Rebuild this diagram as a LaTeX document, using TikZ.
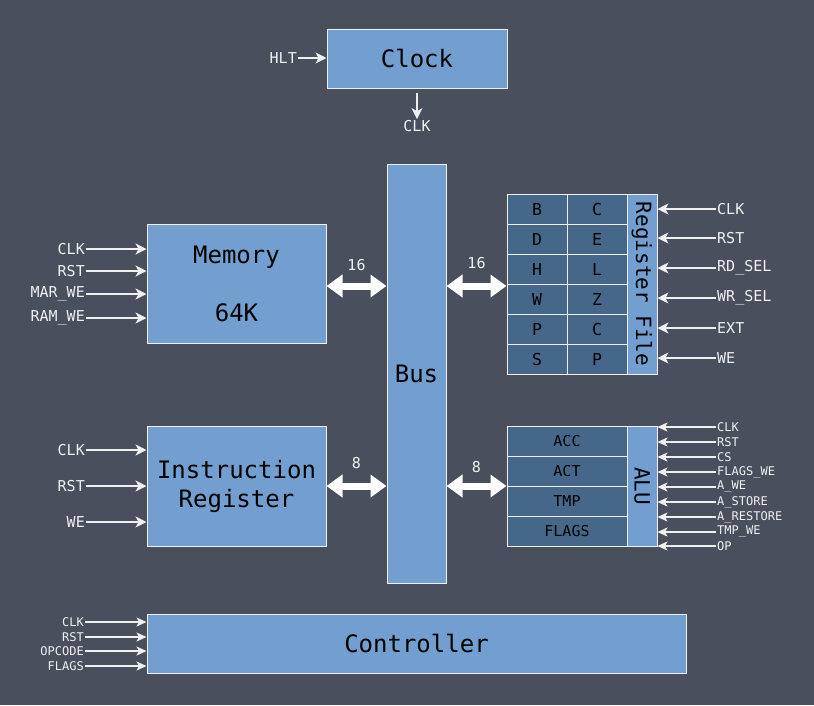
\documentclass[tikz,border=0pt]{standalone}
\usepackage{fontspec}
\setmainfont{DejaVu Sans Mono}
\usetikzlibrary{positioning,arrows.meta}

\definecolor{bgc}{RGB}{74,79,94}
\definecolor{boxc}{RGB}{114,159,207}
\definecolor{cellc}{RGB}{69,104,138}
\definecolor{linec}{RGB}{240,240,240}

\tikzset{
  blk/.style={draw=linec,fill=boxc,line width=1pt,inner sep=0pt,text=black},
  cell/.style={draw=linec,fill=cellc,line width=1pt,inner sep=0pt,text=black,
    minimum height=30pt,font=\fontsize{15}{18}\selectfont},
  big/.style={font=\fontsize{24}{29}\selectfont},
  vert/.style={font=\fontsize{21}{25}\selectfont},
  sig/.style={text=linec,inner sep=1pt,font=\fontsize{15}{18}\selectfont},
  sigs/.style={text=linec,inner sep=1pt,font=\fontsize{12}{14}\selectfont},
  inarr/.style={draw=linec,line width=1.5pt,-{Stealth[length=11pt,width=11pt,inset=3pt]}},
  inarrs/.style={draw=linec,line width=1.3pt,-{Stealth[length=10pt,width=9pt,inset=2.5pt]}},
  busarr/.style={draw=white,line width=7pt,
    {Triangle[length=16pt,width=22pt]}-{Triangle[length=16pt,width=22pt]}}
}

\begin{document}
\begin{tikzpicture}[x=1pt,y=-1pt]

\fill[bgc] (0,0) rectangle (814,705);
\useasboundingbox (0,0) rectangle (814,705);

% clock
\node[blk,big,minimum width=180pt,minimum height=59pt] (clock) at (417,58.5) {Clock};
\node[sig,anchor=east] (hlt) at (298,58) {HLT};
\draw[inarr] (hlt.east) -- (hlt -| clock.west);
\node[sig] (clkout) at (417,126) {CLK};
\draw[inarr] ([yshift=-4pt]clock.south) -- (clkout.north);

% bus
\node[blk,big,minimum width=59pt,minimum height=419pt] (bus) at (416.5,373.5) {Bus};

% memory
\node[blk,big,align=center,minimum width=179pt,minimum height=119pt] (mem) at (236.5,283.5) {Memory\\[29pt]64K};
\foreach \y/\t in {249/CLK,271/RST,294/MAR\_WE,318/RAM\_WE}{
  \node[sig,anchor=east] (mi\y) at (86,\y) {\t};
  \draw[inarr] (mi\y.east) -- (mi\y -| mem.west);
}
\draw[busarr] ([yshift=-2.5pt]mem.east) -- node[sig,above=11pt] (wmem) {16} ([yshift=-2.5pt]mem.east -| bus.west);

% register file
\foreach \r/\a/\b in {0/B/C,1/D/E,2/H/L,3/W/Z,4/P/C,5/S/P}{
  \node[cell,minimum width=60pt,font=\fontsize{16.5}{19}\selectfont] (ra\r) at (537,209+30*\r) {\a};
  \node[cell,minimum width=60pt,font=\fontsize{16.5}{19}\selectfont] (rb\r) at (597,209+30*\r) {\b};
}
\node[blk,vert,minimum width=30pt,minimum height=180pt] (rf) at (642,284) {\rotatebox{-90}{Register File}};
\foreach \y/\t in {209/CLK,238/RST,268/RD\_SEL,298/WR\_SEL,328/EXT,358/WE}{
  \node[sig,anchor=west] (ri\y) at (716,\y) {\t};
  \draw[inarr] (ri\y.west) -- (ri\y -| rf.east);
}
\draw[busarr] ([yshift=-2.5pt]mem.east -| bus.east) -- node[sig,above=13pt] (wrf) {16} ([yshift=-2.5pt]mem.east -| ra3.west);

% instruction register
\node[blk,big,align=center,minimum width=179pt,minimum height=120pt] (ir) at (236.5,486) {Instruction\\Register};
\foreach \y/\t in {450/CLK,486/RST,522/WE}{
  \node[sig,anchor=east] (ii\y) at (86,\y) {\t};
  \draw[inarr] (ii\y.east) -- (ii\y -| ir.west);
}
\draw[busarr] (ir.east) -- node[sig,above=13pt] (wir) {8} (ir.east -| bus.west);

% alu
\foreach \r/\t in {0/ACC,1/ACT,2/TMP,3/FLAGS}{
  \node[cell,minimum width=120pt] (ac\r) at (567,441+30*\r) {\t};
}
\node[blk,vert,minimum width=30pt,minimum height=120pt] (alu) at (642,486) {\rotatebox{-90}{ALU}};
\foreach \y/\t in {427/CLK,442/RST,457/CS,472/FLAGS\_WE,487/A\_WE,502/A\_STORE,517/A\_RESTORE,532/TMP\_WE,546/OP}{
  \node[sigs,anchor=west] (ai\y) at (716,\y) {\t};
  \draw[inarrs] (ai\y.west) -- (ai\y -| alu.east);
}
\draw[busarr] (ir.east -| bus.east) -- node[sig,above=9pt] (walu) {8} (ir.east -| ac2.west);

% controller
\node[blk,big,minimum width=539pt,minimum height=59pt] (ctl) at (416.5,643.5) {Controller};
\foreach \y/\t in {622/CLK,637/RST,651/OPCODE,666/FLAGS}{
  \node[sigs,anchor=east] (ci\y) at (85,\y) {\t};
  \draw[inarrs] (ci\y.east) -- (ci\y -| ctl.west);
}

\end{tikzpicture}
\end{document}
